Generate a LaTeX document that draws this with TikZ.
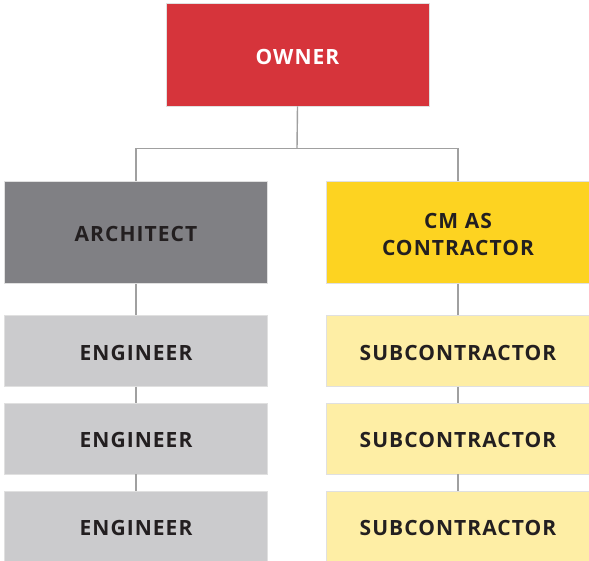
\documentclass[tikz,border=0pt]{standalone}
\usepackage{fontspec}
\setmainfont{Open Sans}
\newfontfamily\boxfont[LetterSpace=5]{Open Sans}
\definecolor{ownred}{HTML}{D6343B}
\definecolor{archgray}{HTML}{808084}
\definecolor{cmyellow}{HTML}{FDD321}
\definecolor{enggray}{HTML}{CBCBCD}
\definecolor{subyellow}{HTML}{FEEEA5}
\definecolor{txtdark}{HTML}{231F20}
\definecolor{linegray}{HTML}{A0A0A0}
\newcommand\dnstrut{\rule{0pt}{18.8pt}}
\tikzset{
  box/.style={rectangle, inner sep=0pt, minimum width=263.4pt, align=center,
    font=\boxfont\fontsize{21}{27.5}\selectfont\bfseries, text=txtdark,
    draw=black!12, line width=0.6pt},
  bigbox/.style={box, minimum height=102.4pt},
  smallbox/.style={box, minimum height=70.8pt},
  conn/.style={draw=linegray, line width=1.4pt}
}
\begin{document}
\begin{tikzpicture}[x=1pt,y=-1pt]
\useasboundingbox (0,0) rectangle (589,561);
\node[bigbox, fill=ownred, text=white, minimum width=263pt] (owner) at (297.5,54.8) {\dnstrut OWNER};
\node[bigbox, fill=archgray] (arch) at (136,232.5) {\dnstrut ARCHITECT};
\node[bigbox, fill=cmyellow] (cm) at (458,232.5) {\dnstrut CM AS\\CONTRACTOR};
\node[smallbox, fill=enggray] (e1) at (136,351.2) {\dnstrut ENGINEER};
\node[smallbox, fill=enggray] (e2) at (136,438.7) {\dnstrut ENGINEER};
\node[smallbox, fill=enggray] (e3) at (136,526.3) {\dnstrut ENGINEER};
\node[smallbox, fill=subyellow] (s1) at (458,351.2) {\dnstrut SUBCONTRACTOR};
\node[smallbox, fill=subyellow] (s2) at (458,438.7) {\dnstrut SUBCONTRACTOR};
\node[smallbox, fill=subyellow] (s3) at (458,526.3) {\dnstrut SUBCONTRACTOR};
\coordinate (bus) at (297,148.7);
\draw[conn] (owner.south) -- (bus);
\draw[conn] (arch.north) |- (bus) -| (cm.north);
\draw[conn] (arch.south) -- (e1.north);
\draw[conn] (e1.south) -- (e2.north);
\draw[conn] (e2.south) -- (e3.north);
\draw[conn] (cm.south) -- (s1.north);
\draw[conn] (s1.south) -- (s2.north);
\draw[conn] (s2.south) -- (s3.north);
\end{tikzpicture}
\end{document}
